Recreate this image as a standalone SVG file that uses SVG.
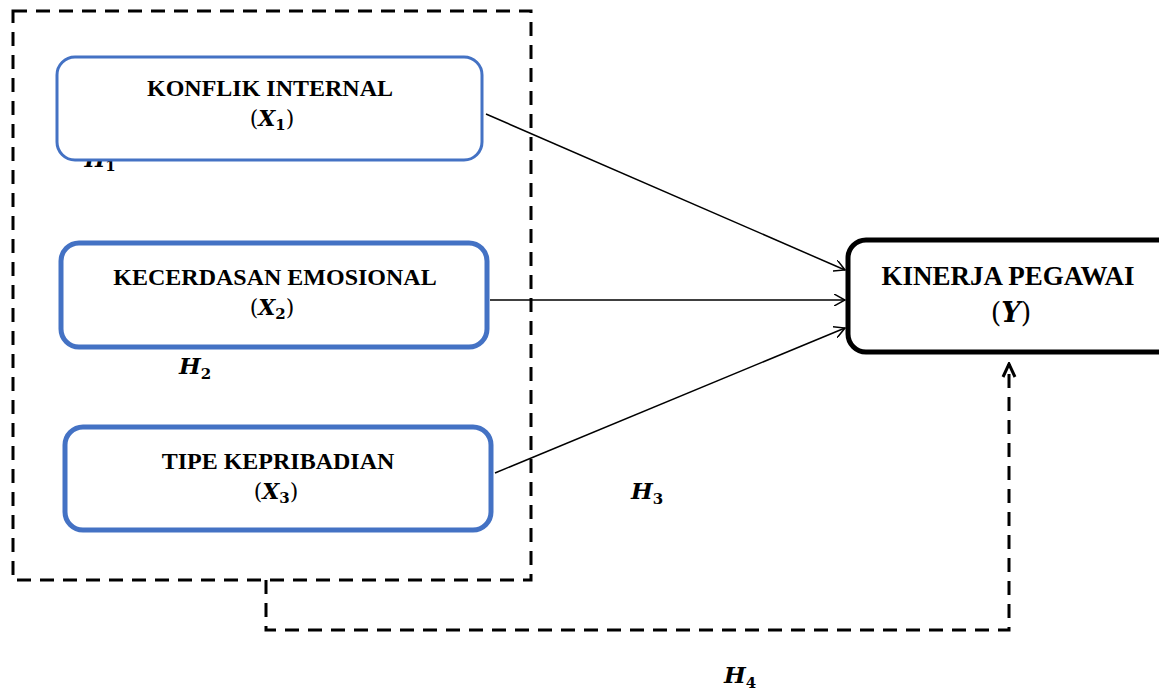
<svg xmlns="http://www.w3.org/2000/svg" width="1159" height="690" viewBox="0 0 1159 690">
<defs>
<style>
.lbl{font-family:"Liberation Serif","Times New Roman",serif;font-weight:bold;font-size:24px;fill:#000;text-anchor:middle}
.math{font-family:"DejaVu Serif","Liberation Serif",serif;font-size:22px;fill:#000;text-anchor:middle}
.mi{font-style:italic;font-weight:bold}
.sub{font-size:15px;font-weight:bold}
.blue{fill:#fff;stroke:#4472C4}
.dash{fill:none;stroke:#000;stroke-width:3;stroke-dasharray:14 9}
.conn{stroke:#000;stroke-width:1.5;fill:none}
</style>
<marker id="open" viewBox="0 0 12 12" refX="11" refY="6" markerWidth="12" markerHeight="12" markerUnits="userSpaceOnUse" orient="auto">
<path d="M0,0 L11,6 L0,12" fill="none" stroke="#000" stroke-width="1.5"/>
</marker>
<marker id="openThick" viewBox="0 0 16 16" refX="14" refY="8" markerWidth="16" markerHeight="16" markerUnits="userSpaceOnUse" orient="auto">
<path d="M1,2 L14,8 L1,14" fill="none" stroke="#000" stroke-width="3"/>
</marker>
</defs>
<rect width="1159" height="690" fill="#fff"/>

<g id="group-box">
<rect x="13" y="11" width="518" height="569" class="dash"/>
</g>

<g id="h1-label">
<text x="100" y="167" class="math"><tspan class="mi">H</tspan><tspan class="sub" dy="4">1</tspan></text>
</g>

<g id="node-x1">
<rect x="57" y="57" width="425" height="103" rx="18" class="blue" stroke-width="3"/>
<text x="270" y="96" class="lbl">KONFLIK INTERNAL</text>
<text x="272" y="126" class="math">(<tspan class="mi">X</tspan><tspan class="sub" dy="4">1</tspan><tspan dy="-4">)</tspan></text>
</g>

<g id="node-x2">
<rect x="61" y="243" width="426" height="104" rx="18" class="blue" stroke-width="5"/>
<text x="275" y="285" class="lbl">KECERDASAN EMOSIONAL</text>
<text x="272" y="315" class="math">(<tspan class="mi">X</tspan><tspan class="sub" dy="4">2</tspan><tspan dy="-4">)</tspan></text>
</g>

<g id="node-x3">
<rect x="65" y="427" width="426" height="103" rx="18" class="blue" stroke-width="5"/>
<text x="278" y="469" class="lbl">TIPE KEPRIBADIAN</text>
<text x="276" y="499" class="math">(<tspan class="mi">X</tspan><tspan class="sub" dy="4">3</tspan><tspan dy="-4">)</tspan></text>
</g>

<g id="node-y">
<rect x="848" y="240" width="330" height="112" rx="18" fill="#fff" stroke="#000" stroke-width="5"/>
<text x="1008" y="285" class="lbl" style="font-size:27px">KINERJA PEGAWAI</text>
<text x="1011" y="322" class="math" style="font-size:27px">(<tspan class="mi">Y</tspan>)</text>
</g>

<g id="connectors">
<line x1="486" y1="114" x2="845" y2="270" class="conn" marker-end="url(#open)"/>
<line x1="490" y1="300" x2="845" y2="300" class="conn" marker-end="url(#open)"/>
<line x1="495" y1="473" x2="845" y2="328" class="conn" marker-end="url(#open)"/>
<polyline points="266,580 266,630 1009,630 1009,364" class="dash" marker-end="url(#openThick)"/>
</g>

<g id="labels">
<text x="195" y="374" class="math" style="font-size:23px"><tspan class="mi">H</tspan><tspan class="sub" dy="5">2</tspan></text>
<text x="647" y="499" class="math" style="font-size:23px"><tspan class="mi">H</tspan><tspan class="sub" dy="5">3</tspan></text>
<text x="740" y="683" class="math" style="font-size:23px"><tspan class="mi">H</tspan><tspan class="sub" dy="5">4</tspan></text>
</g>
</svg>
